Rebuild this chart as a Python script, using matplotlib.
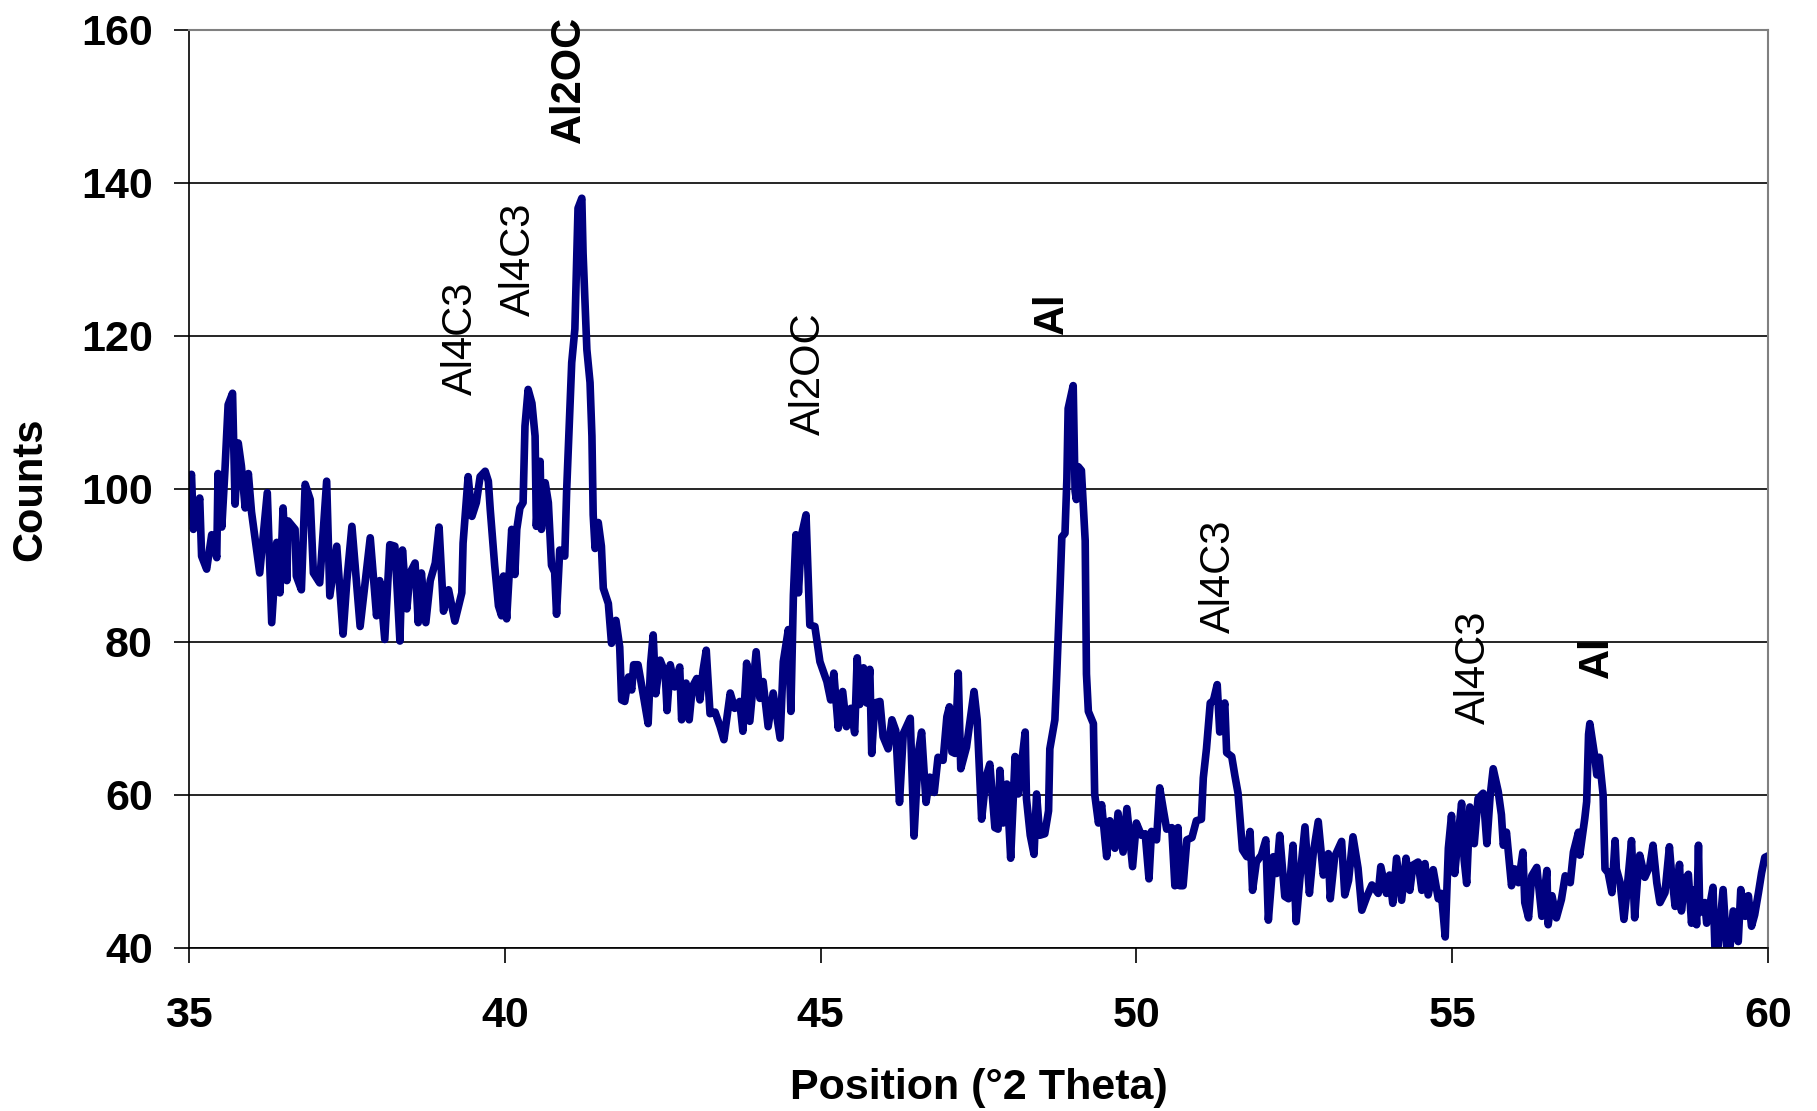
import matplotlib.pyplot as plt

# XRD pattern, values
two_theta = [
    35.0, 35.04, 35.07, 35.17, 35.2, 35.28, 35.36, 35.44, 35.46, 35.52, 35.57, 35.62, 35.69, 35.73,
    35.78, 35.83, 35.89, 35.94, 35.99, 36.12, 36.24, 36.31, 36.39, 36.44, 36.49, 36.55, 36.57,
    36.68, 36.7, 36.78, 36.84, 36.92, 36.97, 37.07, 37.18, 37.23, 37.34, 37.44, 37.5, 37.58,
    37.71, 37.87, 37.97, 38.02, 38.1, 38.18, 38.26, 38.34, 38.38, 38.45, 38.5, 38.58, 38.63,
    38.68, 38.75, 38.82, 38.9, 38.96, 39.03, 39.11, 39.21,
    39.32, 39.34, 39.42, 39.48, 39.55, 39.61, 39.69, 39.74, 39.77, 39.84, 39.9, 39.95, 39.98,
    40.03, 40.11, 40.16, 40.19, 40.24, 40.29, 40.32, 40.37, 40.43, 40.48, 40.5, 40.56, 40.58,
    40.64, 40.69, 40.74, 40.79, 40.82, 40.87, 40.95, 40.98, 41.06, 41.11, 41.16, 41.22, 41.24,
    41.3, 41.35, 41.38, 41.4, 41.43, 41.48, 41.53, 41.56,
    41.64, 41.69, 41.76, 41.82, 41.85, 41.9, 41.96, 42.01, 42.04, 42.11, 42.19, 42.27, 42.31,
    42.35, 42.39, 42.46, 42.54, 42.57, 42.62, 42.69, 42.77, 42.8, 42.87, 42.92, 42.97, 43.04,
    43.09, 43.14, 43.19, 43.25, 43.33, 43.41,
    43.47, 43.57, 43.64, 43.72, 43.77, 43.83, 43.88, 43.98, 44.04, 44.09, 44.17, 44.25, 44.36,
    44.41, 44.49, 44.53, 44.57, 44.61, 44.65, 44.7, 44.77, 44.81, 44.83, 44.91, 44.99, 45.1,
    45.16, 45.21, 45.28, 45.35, 45.41, 45.48, 45.54, 45.58, 45.62, 45.68, 45.73,
    45.78, 45.81, 45.86, 45.94, 45.99, 46.07, 46.13, 46.19, 46.25, 46.31, 46.36, 46.42, 46.48,
    46.55, 46.6, 46.67, 46.73, 46.8, 46.86, 46.94, 47.0, 47.04, 47.08, 47.13, 47.18, 47.22,
    47.31, 47.39, 47.43, 47.48, 47.55, 47.62, 47.68, 47.76, 47.81, 47.84,
    47.89, 47.95, 48.01, 48.08, 48.13, 48.18, 48.24, 48.26, 48.32, 48.38, 48.42, 48.47, 48.55,
    48.61, 48.63, 48.71, 48.74, 48.79, 48.82, 48.87, 48.9, 48.92, 49.0, 49.03, 49.05, 49.08,
    49.13, 49.19, 49.21, 49.24, 49.32, 49.34, 49.4, 49.45, 49.53, 49.58, 49.66, 49.71, 49.79,
    49.85, 49.94, 50.0, 50.08, 50.14, 50.2, 50.24, 50.32, 50.37, 50.43, 50.48, 50.56, 50.61,
    50.66, 50.69, 50.74, 50.8, 50.88, 50.95, 51.03, 51.06, 51.11, 51.17, 51.22, 51.28, 51.32,
    51.4, 51.43, 51.51, 51.56,
    51.61, 51.68, 51.75, 51.8, 51.84, 51.9, 51.98, 52.05, 52.09, 52.17, 52.22, 52.27, 52.35,
    52.41, 52.48, 52.53, 52.59, 52.67, 52.74, 52.8, 52.88, 52.96, 53.04, 53.07, 53.14, 53.25,
    53.3, 53.36, 53.43, 53.51, 53.57, 53.65, 53.73, 53.83, 53.87, 53.96, 54.01, 54.06, 54.12,
    54.2, 54.27, 54.33, 54.38, 54.46, 54.52, 54.57, 54.62, 54.7, 54.78, 54.83, 54.89, 54.94,
    54.99, 55.04, 55.1, 55.15, 55.19, 55.23, 55.28, 55.35, 55.41, 55.49, 55.55, 55.6, 55.65,
    55.73, 55.78, 55.81, 55.86, 55.94, 55.99, 56.05, 56.12, 56.15, 56.21, 56.26, 56.34, 56.42,
    56.5, 56.52, 56.58, 56.65, 56.73, 56.79, 56.87, 56.92, 57.0, 57.02, 57.1, 57.13, 57.16,
    57.18, 57.26, 57.29, 57.33, 57.39, 57.42, 57.47, 57.53, 57.58, 57.6, 57.66, 57.72, 57.76,
    57.84, 57.89, 57.95, 57.97, 58.05, 58.13, 58.18, 58.24, 58.29, 58.37, 58.44, 58.47, 58.53,
    58.6, 58.63, 58.69, 58.74, 58.79, 58.84, 58.87, 58.9, 58.92, 59.0, 59.03, 59.13, 59.16,
    59.21, 59.29, 59.35, 59.4, 59.45, 59.53, 59.57, 59.64, 59.69, 59.74, 59.79, 59.85, 59.9,
    59.95, 60.0,
]
counts = [
    100.5, 101.9, 94.7, 98.8, 91.2, 89.5, 94, 91, 102, 95, 102.5, 111, 112.5, 98,
    106, 103, 97.5, 102, 97, 89, 99.5, 82.5, 93, 86.4, 97.5, 88, 95.8,
    94.7, 88.6, 86.8, 100.6, 98.6, 89, 87.7, 101, 86, 92.5, 81, 88, 95.1,
    82, 93.6, 83.4, 88, 80.3, 92.7, 92.5, 80.1, 92, 84.3, 89, 90.3, 82.5,
    89, 82.5, 88, 90.3, 95, 84, 86.8, 82.7,
    86.4, 92.9, 101.6, 96.4, 98.2, 101.6, 102.3, 101, 97.3, 90, 84.7, 83.4, 88.6,
    83, 94.7, 88.8, 94.7, 97.5, 98.2, 108.2, 113, 111.2, 106.9, 95.1, 103.6, 94.7,
    100.8, 98.2, 90, 89.1, 83.6, 92, 91.2, 99.8, 116.5, 120.9, 136.7, 138, 130.8,
    118.2, 113.9, 106.9, 96.6, 92.2, 95.6, 92.5, 87,
    85, 79.8, 82.8, 79.3, 72.4, 72.2, 75.4, 73.7, 77, 77, 73.2, 69.3, 77.2,
    80.9, 73.2, 77.6, 75.9, 71, 77, 74.1, 76.7, 69.8, 74.6, 69.8, 74.1, 75.2,
    72.4, 76.3, 78.9, 70.6, 70.8, 68.9,
    67.2, 73.3, 71.3, 72.2, 68.3, 77.2, 69.6, 78.7, 72.6, 74.8, 68.9, 73.3, 67.4,
    77.4, 81.6, 70.9, 86.1, 94, 86.4, 94, 96.6, 87, 82.2, 82, 77.4, 74.8,
    72.4, 75.9, 68.7, 73.5, 68.9, 71.3, 68.1, 77.9, 71.8, 76.6, 72,
    76.4, 65.4, 72, 72.2, 67.6, 66, 69.8, 68.4, 59, 68, 68.9, 70, 54.6,
    65.6, 68.2, 59, 62.3, 60.3, 64.9, 64.5, 70.2, 71.5, 65.6, 65.4, 75.9, 63.4,
    66.2, 71.1, 73.5, 69.8, 56.8, 62.3, 64, 55.7, 55.5, 63.2,
    56.3, 61.4, 51.7, 65, 60.1, 63.9, 68.2, 59.5, 54.7, 52.2, 60.1, 54.7, 54.9,
    57.9, 66, 69.8, 75.8, 86.6, 93.7, 94.2, 101.3, 110.5, 113.5, 99.7, 98.6, 102.9,
    102.4, 93.2, 75.8, 70.9, 69.3, 60.1, 56.3, 58.7, 51.9, 56.6, 53, 57.6, 52.5,
    58.2, 50.6, 56.3, 54.7, 54.9, 49, 55.2, 54.1, 60.9, 57.9, 55.5, 55.7, 48.1,
    55.7, 48.1, 48.1, 54.1, 54.4, 56.6, 56.8, 62.2, 66, 72, 72.3, 74.4, 68.2,
    72, 65.5, 65, 62.5,
    60.2, 52.8, 51.9, 55.2, 47.5, 51.2, 52.1, 54.1, 43.6, 51.9, 49.7, 54.7, 46.7,
    46.4, 53.4, 43.4, 49.1, 55.8, 47.1, 52.3, 56.5, 49.5, 52.3, 46.4, 51.9, 53.9,
    46.9, 48.8, 54.5, 50.4, 44.9, 46.7, 48.2, 47.1, 50.6, 47.1, 49.5, 45.8, 51.7,
    46.2, 51.7, 47.5, 50.8, 51.2, 47.5, 51, 46.9, 50.2, 46.4, 47.1, 41.4, 53,
    57.3, 49.7, 54.9, 58.9, 51.5, 48.4, 58.4, 53.6, 59.5, 60.2, 53.6, 59.7, 63.4,
    60.4, 57.4, 53.4, 55.1, 48.1, 50.3, 48.5, 52.5, 45.9, 43.9, 49.4, 50.5, 44.1,
    50.1, 43, 46.8, 43.9, 46.3, 49.4, 48.5, 52.5, 55.1, 52.1, 56.9, 59.1, 67.9,
    69.3, 64.9, 62.6, 64.9, 60, 50.3, 49.8, 47.2, 54, 50.3, 48.5, 43.7, 46.8,
    54, 43.9, 50.7, 52.1, 49.2, 50.7, 53.4, 48.5, 45.9, 47.2, 53.2, 50.1, 45.4,
    50.9, 44.8, 49, 49.6, 43.2, 47.6, 43, 53.4, 44.6, 45.9, 43.2, 47.9, 40.1,
    40.1, 47.6, 39.7, 40.1, 44.8, 40.8, 47.6, 44.1, 46.8, 42.8, 44.3, 47.2, 49.8,
    51.8, 52,
]

# phase labels
peak_names = ['Al4C3', 'Al4C3', 'Al2OC', 'Al2OC', 'Al', 'Al4C3', 'Al4C3', 'Al']
peak_pos = [39.3, 40.22, 41.02, 44.82, 48.67, 51.3, 55.35, 57.3]
label_y = [112.3, 122.6, 145.2, 107.0, 120.3, 81.2, 69.2, 75.3]
label_bold = [False, False, True, False, True, False, False, True]

plt.rcParams['font.family'] = ['Liberation Sans', 'DejaVu Sans']

fig = plt.figure(figsize=(18.17, 11.11), dpi=100)
ax = fig.add_axes([0.104, 0.147, 0.869, 0.826])

ax.plot(two_theta, counts, color='#000080', linewidth=5.5,
        solid_joinstyle='round', solid_capstyle='round')

for name, xp, yp, b in zip(peak_names, peak_pos, label_y, label_bold):
    ax.text(xp, yp, name, rotation=90, ha='center', va='bottom', fontsize=30,
            fontweight='bold' if b else 'normal', clip_on=False)

ax.set_xlim(35, 60)
ax.set_ylim(40, 160)
ax.set_xticks([35, 40, 45, 50, 55, 60])
ax.set_yticks([40, 60, 80, 100, 120, 140, 160])
ax.yaxis.grid(True, color='black', linewidth=1.2)
ax.set_axisbelow(True)

ax.tick_params(axis='both', direction='out', length=11, width=1.2, labelsize=31)
ax.tick_params(axis='y', pad=15)
ax.tick_params(axis='x', pad=24)
for lab in ax.get_xticklabels() + ax.get_yticklabels():
    lab.set_fontweight('bold')

ax.set_xlabel('Position (°2 Theta)', fontsize=31, fontweight='bold')
ax.set_ylabel('Counts', fontsize=30, fontweight='bold')
ax.xaxis.set_label_coords(0.5, -0.131)
ax.yaxis.set_label_coords(-0.088, 0.5)

for side in ['left', 'bottom']:
    ax.spines[side].set_color('black')
    ax.spines[side].set_linewidth(1.2)
for side in ['top', 'right']:
    ax.spines[side].set_color('#808080')
    ax.spines[side].set_linewidth(1.5)

fig.savefig('out.png', dpi=100)
